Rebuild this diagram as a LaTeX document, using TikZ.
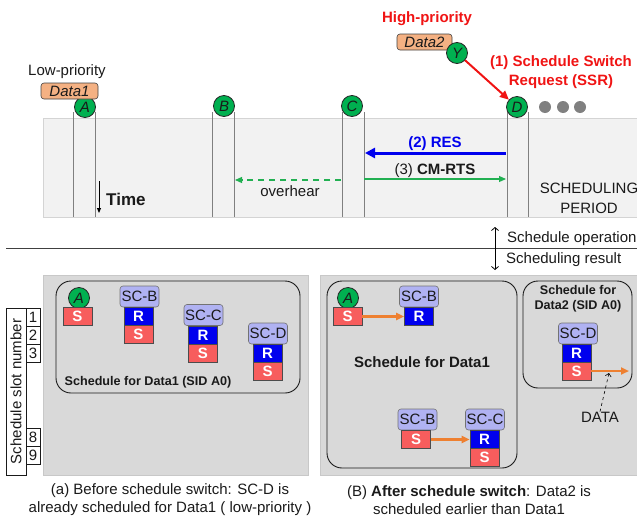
\documentclass[tikz,border=0pt]{standalone}
\usepackage{fontspec}
\setmainfont{Liberation Sans}
\usetikzlibrary{arrows.meta}
\definecolor{txt}{HTML}{1A1A1A}
\definecolor{cgreen}{HTML}{00B050}
\definecolor{sred}{HTML}{F75D5D}
\definecolor{rblue}{HTML}{0000EE}
\definecolor{lav}{HTML}{B0B2F2}
\definecolor{dorange}{HTML}{F4B183}
\definecolor{bandfill}{HTML}{F2F2F2}
\definecolor{bandline}{HTML}{D4D4D4}
\definecolor{panelfill}{HTML}{D9D9D9}
\definecolor{panelline}{HTML}{C8C8C8}
\definecolor{vgray}{HTML}{808080}
\definecolor{cred}{HTML}{F01414}
\definecolor{arrgreen}{HTML}{22B052}
\definecolor{corange}{HTML}{EE8031}
\newcommand\fsz{\fontsize{15}{17}\selectfont}
\newcommand\fsm{\fontsize{12.6}{15}\selectfont}
\begin{document}
\begin{tikzpicture}[x=1pt,y=-1pt,
  every node/.style={font=\fsz, text=txt, inner sep=0pt},
  gc/.style={circle, draw=black!85, line width=0.8pt, fill=cgreen, minimum size=21pt, font=\fsz\itshape},
  sbox/.style={rectangle, draw=black!70, line width=0.6pt, fill=sred, minimum width=29pt, minimum height=18pt, text=white, font=\fsz\bfseries},
  rbox/.style={rectangle, draw=black!70, line width=0.6pt, fill=rblue, minimum width=29pt, minimum height=18pt, text=white, font=\fsz\bfseries},
  sclab/.style={rectangle, rounded corners=3pt, draw=black!55, line width=0.6pt, fill=lav, minimum width=39pt, minimum height=21pt},
  databox/.style={rectangle, rounded corners=3pt, draw=black!75, line width=0.6pt, fill=dorange, minimum height=16pt, font=\fsz\itshape},
  vline/.style={draw=vgray, line width=0.8pt},
  numbox/.style={rectangle, draw=txt, line width=0.6pt, minimum width=14pt, minimum height=18pt},
  oarr/.style={draw=corange, line width=2.2pt, -{Triangle[length=8pt,width=7pt]}},
  grp/.style={draw=txt, line width=0.9pt, rounded corners=15pt},
  gdot/.style={circle, fill=vgray, minimum size=12pt}
]
\useasboundingbox (0,0) rectangle (637,517);
% top band
\fill[bandfill, draw=bandline, line width=0.8pt] (43,118) rectangle (645,217);
\foreach \x in {73,95,212,234,342,364,507,528} \draw[vline] (\x,112) -- (\x,217);
% circles
\node[gc] (A) at (85,107) {A};
\node[gc] (B) at (224,106) {B};
\node[gc] (C) at (352,106) {C};
\node[gc] (D) at (517,107) {D};
\node (lowp) at (67,72) {Low-priority};
\node[databox, minimum width=57pt] (d1) at (69.5,91) {Data1};
\node[text=cred, font=\fsz\bfseries] (highp) at (427,19) {High-priority};
\node[databox, minimum width=55pt] (d2) at (424.5,42) {Data2};
\node[gc] (Y) at (457,53) {Y};
\draw[draw=cred, line width=2pt, -{Triangle[length=9pt,width=8pt]}] (Y) -- (D);
\node[align=center, text=cred, font=\fontsize{15}{19}\selectfont\bfseries] (ssr) at (561,72.5) {(1) Schedule Switch\\Request (SSR)};
\node[gdot] (dot1) at (545,107) {};
\node[gdot] (dot2) at (563,107) {};
\node[gdot] (dot3) at (580,107) {};
% messages
\coordinate (Dres) at (506,153);
\coordinate (Cres) at (365,153);
\draw[draw=rblue, line width=3pt, -{Triangle[length=10pt,width=10pt]}] (Dres) -- (Cres);
\node[text=rblue, font=\fsz\bfseries] (res) at (435,144) {(2) RES};
\coordinate (Crts) at (364,179);
\coordinate (Drts) at (506,179);
\draw[draw=arrgreen, line width=1.1pt, -{Triangle[length=7pt,width=6pt]}] (Crts) -- (Drts);
\node (rts) at (435,171) {(3) \textbf{CM-RTS}};
\coordinate (Cov) at (341,180);
\coordinate (Bov) at (235,180);
\draw[draw=arrgreen, line width=1.1pt, dash pattern=on 6pt off 5pt, -{Triangle[length=7pt,width=6pt]}] (Cov) -- (Bov);
\node (ovh) at (290,191) {overhear};
\coordinate (t1) at (99,181);
\coordinate (t2) at (99,213);
\draw[draw=black, line width=0.9pt, -{Triangle[length=5pt,width=4pt]}] (t1) -- (t2);
\node[anchor=west, font=\fontsize{17}{19}\selectfont\bfseries] (time) at (106,199) {Time};
\node[align=center, font=\fontsize{15}{20}\selectfont] (sp) at (589,198) {SCHEDULING\\PERIOD};
% divider
\coordinate (hl1) at (6,248);
\coordinate (hl2) at (640,248);
\draw[draw=black!75, line width=1pt] (hl1) -- (hl2);
\coordinate (ud0) at (495,248);
\coordinate (ud1) at (495,227);
\coordinate (ud2) at (495,270);
\draw[line width=0.8pt, -{Straight Barb[length=3pt,width=7pt]}] (ud0) -- (ud1);
\draw[line width=0.8pt, -{Straight Barb[length=3pt,width=7pt]}] (ud0) -- (ud2);
\node[anchor=west] (sop) at (507,239) {Schedule operation};
\node[anchor=west] (sres) at (506,260) {Scheduling result};
% bottom panels
\fill[panelfill, draw=panelline, line width=0.8pt] (43,275) rectangle (308,475);
\fill[panelfill, draw=panelline, line width=0.8pt] (320,275) rectangle (645,475);
% slot number column
\node[draw=txt, line width=0.6pt, rotate=90, minimum width=167pt, minimum height=20pt] (slot) at (16,391.5) {Schedule slot number};
\node[numbox] (n1) at (33,317) {1};
\node[numbox] (n2) at (33,335) {2};
\node[numbox] (n3) at (33,353) {3};
\node[numbox] (n8) at (33,437.5) {8};
\node[numbox] (n9) at (33,455.5) {9};
% left schedule
\draw[grp] (56,281) rectangle (300,393);
\node[gc] (lA) at (79,298) {A};
\node[sbox] (lS1) at (77.5,316.5) {S};
\node[sclab] (lscb) at (139.5,296.5) {SC-B};
\node[rbox] (lRb) at (138.5,316.5) {R};
\node[sbox] (lSb) at (138.5,334.5) {S};
\node[sclab] (lscc) at (203.5,315) {SC-C};
\node[rbox] (lRc) at (203,335) {R};
\node[sbox] (lSc) at (203,353) {S};
\node[sclab] (lscd) at (268,333.5) {SC-D};
\node[rbox] (lRd) at (267.5,353) {R};
\node[sbox] (lSd) at (267.5,371) {S};
\node[font=\fsm\bfseries] (lt) at (148,382) {Schedule for Data1 (SID A0)};
% right schedule 1
\draw[grp] (327,281) rectangle (517,468);
\node[gc] (rA) at (348,298) {A};
\node[sbox] (rS1) at (347.5,316.5) {S};
\node[sclab] (rscb) at (419,296.5) {SC-B};
\node[rbox] (rRb) at (419,316.5) {R};
\draw[oarr] (rS1) -- (rRb);
\node[font=\fsz\bfseries] (rt) at (422,362) {Schedule for Data1};
\node[sclab] (rscb2) at (417.5,419.5) {SC-B};
\node[sbox] (rSb2) at (416,439.5) {S};
\node[sclab] (rscc) at (485,419.5) {SC-C};
\node[rbox] (rRc) at (484.5,439.5) {R};
\node[sbox] (rSc) at (484.5,457.5) {S};
\draw[oarr] (rSb2) -- (rRc);
% right schedule 2
\draw[grp] (523,281) rectangle (632,388);
\node[align=center, font=\fontsize{12.6}{15}\selectfont\bfseries] (rt2) at (578,298.5) {Schedule for\\Data2 (SID A0)};
\node[sclab] (rscd) at (578,333.5) {SC-D};
\node[rbox] (rRd) at (576.5,353) {R};
\node[sbox] (rSd) at (576.5,371) {S};
\coordinate (dend) at (629,371);
\draw[oarr] (rSd.east) -- (dend);
\node (data) at (600,417) {DATA};
\coordinate (dtip) at (609,373);
\draw[line width=0.6pt, dashed, -{Straight Barb[length=3pt,width=6pt]}] (data.north) -- (dtip);
% captions
\node[align=center, font=\fontsize{15}{18}\selectfont] (capa) at (170,500) {(a) Before schedule switch: SC-D is\\already scheduled for Data1 ( low-priority )};
\node[align=center, font=\fontsize{15}{18}\selectfont] (capb) at (469,500) {(B) \textbf{After schedule switch}: Data2 is\\scheduled earlier than Data1};
\end{tikzpicture}
\end{document}
